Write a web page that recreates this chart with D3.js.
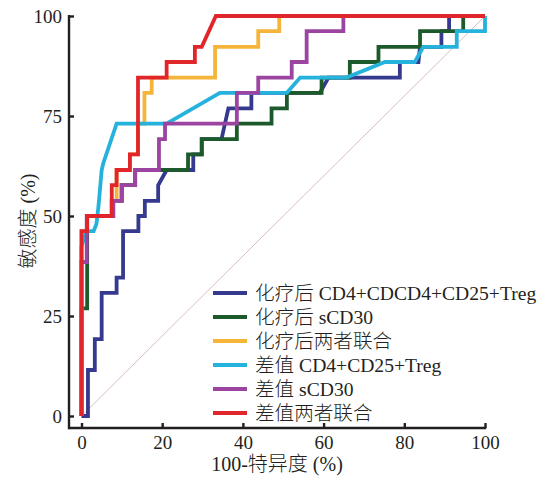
<!DOCTYPE html>
<html>
<head>
<meta charset="utf-8">
<script src="https://cdn.jsdelivr.net/npm/d3@7"></script>
<style>
  body { margin: 0; background: #fff; }
  #chart text { font-family: "Liberation Serif", "Noto Sans CJK SC", serif; fill: #231f20; font-weight: 300; }
</style>
</head>
<body>
<div id="chart"></div>
<script>
// ROC curves, [100-特异度, 敏感度] in %
const seriesNames = ['化疗后 CD4+CDCD4+CD25+Treg', '化疗后 sCD30', '化疗后两者联合',
  '差值 CD4+CD25+Treg', '差值 sCD30', '差值两者联合'];
const seriesColors = ['#353a8f', '#1c5a2b', '#f4b53a', '#25b2dc', '#9b44a1', '#e1262b'];

const navyPts = [[0,0],[1.6,0],[1.6,11.5],[3.3,11.5],[3.3,19.2],[5,19.2],[5,30.8],[8.7,30.8],
  [8.7,34.6],[10.3,34.6],[10.3,46.2],[14.1,46.2],[14.1,50],[15.7,50],[15.7,53.8],[19,53.8],
  [19,57.7],[21.1,61.5],[27.7,61.5],[27.7,65.4],[29.8,65.4],[29.8,69.2],[34.7,69.2],[36.4,76.9],
  [42.1,76.9],[42.1,80.8],[59.1,80.8],[61.2,84.6],[78.9,84.6],[78.9,88.5],[83.5,88.5],[83.9,92.3],
  [89.2,92.3],[89.2,96.2],[91.1,96.2],[91.1,100],[100,100]];
const greenPts = [[0,0],[0,26.9],[1.4,26.9],[1.4,50],[7.5,50],[7.5,53.8],[10,53.8],[10,57.7],
  [13.3,57.7],[13.3,61.5],[26.4,61.5],[26.4,65.4],[29.8,65.4],[29.8,69.2],[38.5,69.2],[38.5,73.1],
  [47.1,73.1],[47.1,76.9],[50.9,76.9],[50.9,80.8],[59.5,80.8],[59.5,84.6],[66.5,84.6],[66.5,88.5],
  [73.6,88.5],[73.6,92.3],[83.9,92.3],[83.9,96.2],[94.6,96.2],[94.6,100],[100,100]];
const yellowPts = [[0,0],[0,46.2],[1.4,46.2],[1.4,50],[7.5,50],[7.5,53.8],[8.7,53.8],[8.7,61.5],
  [12,61.5],[12,65.4],[14,65.4],[14,73.1],[15.6,73.1],[15.6,80.8],[17.4,80.8],[17.4,84.6],
  [33.1,84.6],[33.1,92.3],[43.8,92.3],[43.8,96.2],[49,96.2],[49,100],[100,100]];
const cyanPts = [[0,0],[0,42.3],[1.2,46.2],[3,46.2],[3.7,48],[4.2,52.3],[5,61.5],[5.4,63.2],
  [8.7,73.1],[21.1,73.1],[34.3,80.8],[50.9,80.8],[54.2,84.6],[65.7,84.6],[75.2,88.5],[82.6,88.5],
  [84.7,92.3],[93,92.3],[93,96.2],[100,96.2],[100,100]];
const purplePts = [[0,0],[0,38.5],[1.3,38.5],[1.3,50],[7.9,50],[7.9,53.8],[9.9,53.8],[9.9,57.7],
  [13.3,57.7],[13.3,61.5],[19.2,61.5],[19.2,69.2],[20.7,69.2],[20.7,73.1],[38.5,73.1],[38.5,80.8],
  [43.8,80.8],[43.8,84.6],[52.1,84.6],[52.1,88.5],[55.8,88.5],[55.8,96.2],[64.9,96.2],[64.9,100],[100,100]];
const redPts = [[0,0],[0,46.2],[1.4,46.2],[1.4,50],[7.5,50],[7.5,57.7],[8.7,57.7],[8.7,61.5],
  [12,61.5],[12,65.4],[14,65.4],[14,84.6],[21.1,84.6],[21.1,88.5],[28.1,88.5],[28.1,92.3],
  [29.8,92.3],[33.3,100],[100,100]];

const xTicks = [0, 20, 40, 60, 80, 100];
const yTicks = [0, 25, 50, 75, 100];

const allSeries = [navyPts, greenPts, yellowPts, cyanPts, purplePts, redPts];

const width = 545, height = 479;
const axisX = 69, axisY = 428;   // where the axis lines sit

let x = d3.scaleLinear().domain([0, 100]).range([81.5, 485]);
let y = d3.scaleLinear().domain([0, 100]).range([416, 16]);

let svg = d3.select('#chart').append('svg')
    .attr('width', width)
    .attr('height', height);

// chance line
svg.append('line')
    .attr('x1', x(0)).attr('y1', y(0))
    .attr('x2', x(100)).attr('y2', y(100))
    .attr('stroke', '#dcbcc6')
    .attr('stroke-width', 1);

// curves, first legend entry at the bottom
let line = d3.line().x(d => x(d[0])).y(d => y(d[1]));
svg.append('g')
    .selectAll('path')
    .data(allSeries)
    .enter().append('path')
    .attr('d', line)
    .attr('fill', 'none')
    .attr('stroke', (d, i) => seriesColors[i])
    .attr('stroke-width', 3.8)
    .attr('stroke-linejoin', 'miter');

// axes, ticks pointing inwards
let gx = svg.append('g')
    .attr('transform', 'translate(0,' + axisY + ')')
    .call(d3.axisBottom(x).tickValues(xTicks).tickSize(-5).tickSizeOuter(0).tickPadding(8));
let gy = svg.append('g')
    .attr('transform', 'translate(' + axisX + ',0)')
    .call(d3.axisLeft(y).tickValues(yTicks).tickSize(-5).tickSizeOuter(0).tickPadding(7));

[gx, gy].forEach(g => {
    g.select('.domain').remove();
    g.selectAll('.tick line').attr('stroke', '#231f20').attr('stroke-width', 2.4);
    g.selectAll('.tick text').attr('font-size', 19);
});

svg.append('line')
    .attr('x1', axisX).attr('y1', y(100) - 1)
    .attr('x2', axisX).attr('y2', axisY + 1.2)
    .attr('stroke', '#231f20').attr('stroke-width', 2.4);
svg.append('line')
    .attr('x1', axisX).attr('y1', axisY)
    .attr('x2', x(100) + 1.2).attr('y2', axisY)
    .attr('stroke', '#231f20').attr('stroke-width', 2.4);

// axis titles
svg.append('text')
    .attr('x', 277)
    .attr('y', 471)
    .attr('text-anchor', 'middle')
    .attr('font-size', 20)
    .text('100-特异度 (%)');

svg.append('text')
    .attr('transform', 'translate(35,221) rotate(-90)')
    .attr('text-anchor', 'middle')
    .attr('font-size', 20)
    .text('敏感度 (%)');

// legend
let legend = svg.append('g')
    .selectAll('g')
    .data(seriesNames)
    .enter().append('g')
    .attr('transform', (d, i) => 'translate(213,' + (293 + i * 24) + ')');

legend.append('line')
    .attr('x1', 0).attr('x2', 34)
    .attr('stroke', (d, i) => seriesColors[i])
    .attr('stroke-width', 4);

legend.append('text')
    .attr('x', 42)
    .attr('dy', '0.35em')
    .attr('font-size', 19.6)
    .text(d => d);
</script>
</body>
</html>
